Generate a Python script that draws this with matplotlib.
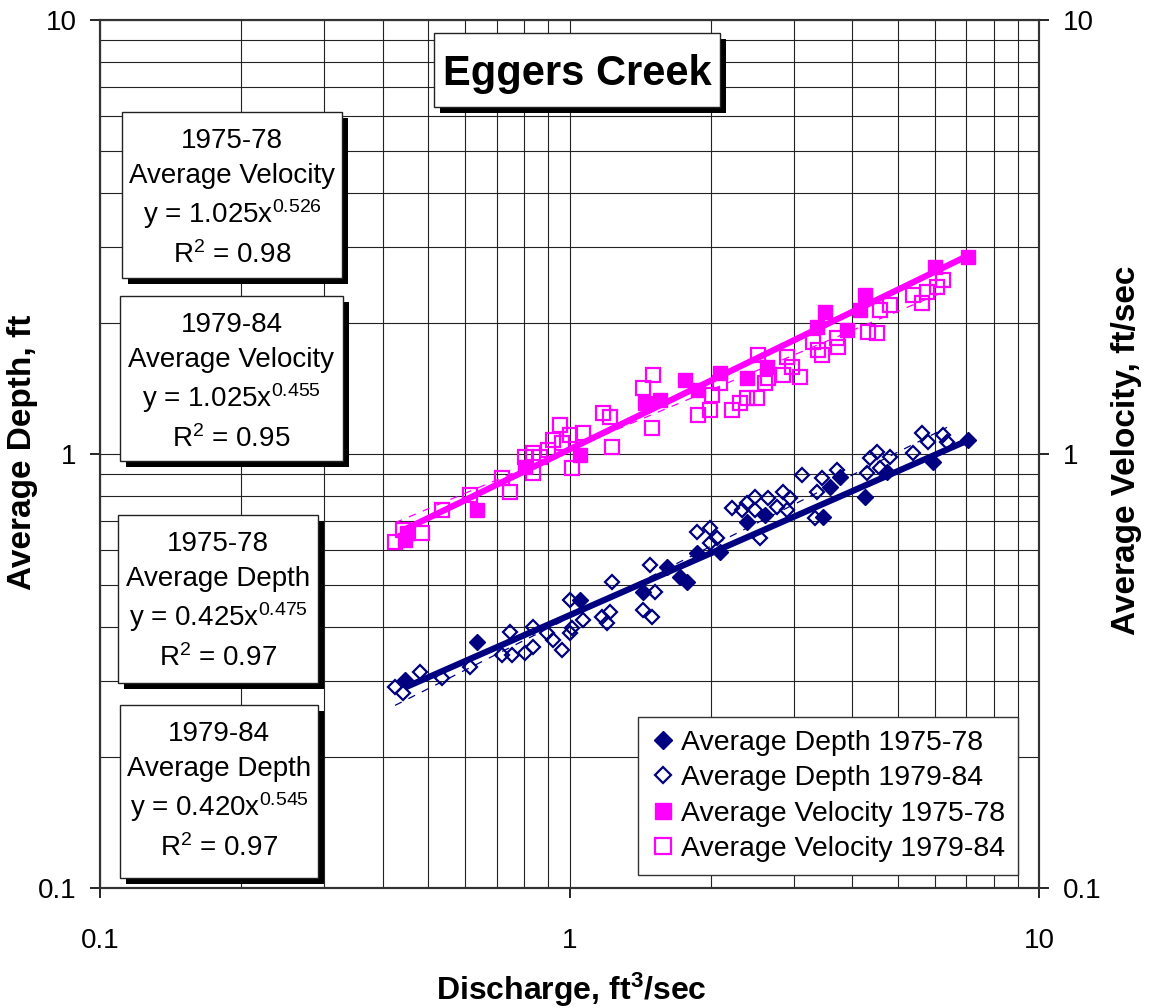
import matplotlib
matplotlib.use("Agg")
import matplotlib.pyplot as plt
from matplotlib.patches import Rectangle
from matplotlib.lines import Line2D
from matplotlib.ticker import FixedLocator, FuncFormatter, LogLocator, NullFormatter
import numpy as np

plt.rcParams['font.family'] = ['Liberation Sans', 'DejaVu Sans']
plt.rcParams['mathtext.fontset'] = 'custom'
plt.rcParams['mathtext.rm'] = 'Liberation Sans'
plt.rcParams['mathtext.it'] = 'Liberation Sans:italic'
plt.rcParams['mathtext.bf'] = 'Liberation Sans:bold'

# ---------------- data ----------------
vel78_q = [0.446, 0.451, 0.635, 0.804, 1.053, 1.449, 1.558, 1.762, 1.878, 2.092, 2.388,
           2.634, 3.367, 3.502, 3.900, 4.156, 4.260, 6.003, 7.060]
vel78_v = [0.634, 0.658, 0.743, 0.933, 0.995, 1.311, 1.332, 1.481, 1.404, 1.537, 1.497,
           1.587, 1.962, 2.124, 1.931, 2.147, 2.325, 2.697, 2.843]

vel84_q = [0.425, 0.442, 0.485, 0.535, 0.614, 0.718, 0.747, 0.804, 0.836, 0.836, 0.865,
           0.900, 0.922, 0.954, 0.964, 1.003, 1.012, 1.068, 1.179, 1.220, 1.232, 1.434,
           1.499, 1.506, 1.878, 1.992, 2.012, 2.092, 2.219, 2.307, 2.388, 2.508, 2.521,
           2.609, 2.647, 2.849, 2.906, 2.978, 3.097, 3.301, 3.383, 3.450, 3.733, 3.715,
           4.324, 4.518, 4.585, 4.816, 5.391, 5.635, 5.772, 6.246, 6.064]
vel84_v = [0.627, 0.668, 0.658, 0.743, 0.804, 0.880, 0.818, 0.984, 1.005, 0.904, 0.984,
           1.021, 1.077, 1.166, 1.060, 1.106, 0.928, 1.118, 1.243, 1.217, 1.038, 1.419,
           1.148, 1.521, 1.230, 1.263, 1.368, 1.457, 1.263, 1.311, 1.346, 1.346, 1.691,
           1.457, 1.497, 1.521, 1.673, 1.587, 1.505, 1.812, 1.737, 1.691, 1.765, 1.850,
           1.910, 1.900, 2.147, 2.204, 2.325, 2.228, 2.362, 2.517, 2.426]

dep78_q = [0.446, 0.635, 1.053, 1.434, 1.614, 1.719, 1.779, 1.869, 2.092, 2.388, 2.609,
           3.467, 3.588, 3.768, 4.260, 4.746, 5.946, 7.060]
dep78_d = [0.301, 0.369, 0.461, 0.481, 0.549, 0.521, 0.507, 0.591, 0.594, 0.697, 0.723,
           0.716, 0.839, 0.885, 0.796, 0.909, 0.958, 1.077]

dep84_q = [0.425, 0.442, 0.480, 0.535, 0.614, 0.718, 0.747, 0.754, 0.804, 0.836, 0.836,
           0.896, 0.922, 0.964, 1.003, 1.012, 1.003, 1.068, 1.173, 1.220, 1.202, 1.232,
           1.434, 1.499, 1.484, 1.521, 1.869, 1.992, 2.062, 1.992, 2.219, 2.330, 2.388,
           2.484, 2.484, 2.647, 2.767, 2.849, 2.949, 2.906, 2.546, 3.127, 3.367, 3.450,
           3.334, 3.715, 4.302, 4.365, 4.518, 4.585, 4.816, 5.391, 5.635, 5.801, 6.246,
           6.368]
dep84_d = [0.290, 0.281, 0.315, 0.305, 0.323, 0.344, 0.389, 0.344, 0.348, 0.400, 0.359,
           0.387, 0.373, 0.354, 0.387, 0.397, 0.461, 0.415, 0.421, 0.433, 0.408, 0.507,
           0.437, 0.421, 0.555, 0.481, 0.661, 0.675, 0.641, 0.624, 0.751, 0.743, 0.771,
           0.796, 0.743, 0.792, 0.755, 0.818, 0.792, 0.743, 0.641, 0.895, 0.818, 0.880,
           0.712, 0.919, 0.904, 0.979, 1.011, 0.928, 0.984, 1.005, 1.118, 1.066, 1.106,
           1.066]

# power-law fits shown in the boxes: y = a * x^b
fit_years = ['1975-78', '1979-84', '1975-78', '1979-84']
fit_kinds = ['Average Velocity', 'Average Velocity', 'Average Depth', 'Average Depth']
fit_a = ['1.025', '1.025', '0.425', '0.420']
fit_b = ['0.526', '0.455', '0.475', '0.545']
fit_r2 = ['0.98', '0.95', '0.97', '0.97']

legend_labels = ['Average Depth 1975-78', 'Average Depth 1979-84',
                 'Average Velocity 1975-78', 'Average Velocity 1979-84']
tick_vals = [0.1, 1, 10]

NAVY = '#000080'
MAG = '#FF00FF'
W, H = 1152, 1008

fig = plt.figure(figsize=(W/100, H/100), dpi=100)
ax = fig.add_axes([100/W, 1-888/H, 939/W, 868/H])
ax.set_xscale('log')
ax.set_yscale('log')
ax.set_xlim(0.1, 10)
ax.set_ylim(0.1, 10)

ax.xaxis.set_major_locator(FixedLocator(tick_vals))
ax.yaxis.set_major_locator(FixedLocator(tick_vals))
ax.xaxis.set_minor_locator(LogLocator(base=10, subs=np.arange(2, 10)))
ax.yaxis.set_minor_locator(LogLocator(base=10, subs=np.arange(2, 10)))
ax.xaxis.set_minor_formatter(NullFormatter())
ax.yaxis.set_minor_formatter(NullFormatter())
fmt = FuncFormatter(lambda v, p: f'{v:g}')
ax.xaxis.set_major_formatter(fmt)
ax.yaxis.set_major_formatter(fmt)
ax.grid(True, which='both', color='#222222', lw=0.8, zorder=0)
ax.set_axisbelow(True)
ax.tick_params(which='major', direction='out', length=7, width=1.2, labelsize=20, pad=10)
ax.tick_params(axis='x', which='major', pad=22)
ax.tick_params(which='minor', length=0)
for s in ax.spines.values():
    s.set_linewidth(1.5)
    s.set_color('#333333')

# scatter
ax.plot(dep78_q, dep78_d, ls='none', marker='D', ms=8, color=NAVY, mec=NAVY, zorder=3)
ax.plot(dep84_q, dep84_d, ls='none', marker='D', ms=7.5, mfc='none', mec=NAVY, mew=1.6, zorder=3)
ax.plot(vel78_q, vel78_v, ls='none', marker='s', ms=10.5, color=MAG, mec=MAG, zorder=3)
ax.plot(vel84_q, vel84_v, ls='none', marker='s', ms=10.5, mfc='none', mec=MAG, mew=1.6, zorder=3)

# trend lines
def trend(q, a, b, color, solid):
    xs = np.logspace(np.log10(min(q)), np.log10(max(q)), 50)
    ys = float(a) * xs ** float(b)
    if solid:
        ax.plot(xs, ys, color=color, lw=4.5, solid_capstyle='butt', zorder=4)
    else:
        ax.plot(xs, ys, color=color, lw=0.9, ls=(0, (6, 6)), zorder=4)

trend(vel78_q, fit_a[0], fit_b[0], MAG, True)
trend(vel84_q, fit_a[1], fit_b[1], MAG, False)
trend(dep78_q, fit_a[2], fit_b[2], NAVY, True)
trend(dep84_q, fit_a[3], fit_b[3], NAVY, False)

# right axis
ax2 = ax.twinx()
ax2.set_yscale('log')
ax2.set_ylim(0.1, 10)
ax2.yaxis.set_major_locator(FixedLocator(tick_vals))
ax2.yaxis.set_minor_locator(LogLocator(base=10, subs=np.arange(2, 10)))
ax2.yaxis.set_minor_formatter(NullFormatter())
ax2.yaxis.set_major_formatter(fmt)
ax2.tick_params(which='major', direction='out', length=7, width=1.2, labelsize=20, pad=10)
ax2.tick_params(which='minor', length=0)
for s in ax2.spines.values():
    s.set_linewidth(1.5)
    s.set_color('#333333')

def fx(px):
    return px / W

def fy(py):
    return 1 - py / H

# axis titles
fig.text(fx(23), fy(452), 'Average Depth, ft', rotation=90, fontsize=24,
         fontweight='bold', ha='center', va='center')
fig.text(fx(1127), fy(450), 'Average Velocity, ft/sec', rotation=90, fontsize=24,
         fontweight='bold', ha='center', va='center')
fig.text(fx(571), fy(990), r'Discharge, $\mathbf{ft^3}$/sec', fontsize=23,
         fontweight='bold', ha='center', va='center')

def panel(x0, y0, x1, y1, sh=6):
    fig.patches.append(Rectangle((fx(x0 + sh), fy(y1 + sh)), (x1 - x0)/W, (y1 - y0)/H,
                                 transform=fig.transFigure, fc='black', ec='none', zorder=8))
    fig.patches.append(Rectangle((fx(x0), fy(y1)), (x1 - x0)/W, (y1 - y0)/H,
                                 transform=fig.transFigure, fc='white', ec='#222222',
                                 lw=1.0, zorder=9))

# title box
panel(434, 33, 720, 107)
fig.text(fx(577), fy(85), 'Eggers Creek', fontsize=30, fontweight='bold',
         ha='center', va='baseline', zorder=10)

# equation boxes
boxes = [(122, 112, 342, 278), (120, 296, 343, 461), (118, 515, 318, 683), (120, 705, 318, 878)]
offsets = [36, 71, 111, 151]
for (x0, y0, x1, y1), yr, kd, a, b, r2 in zip(boxes, fit_years, fit_kinds, fit_a, fit_b, fit_r2):
    panel(x0, y0, x1, y1)
    cx = (x0 + x1) / 2
    lines = [yr, kd, f'y = {a}x' + r'$^{' + b + r'}$', r'R$^{2}$ = ' + r2]
    for off, s in zip(offsets, lines):
        fig.text(fx(cx), fy(y0 + off), s, fontsize=20, ha='center', va='baseline', zorder=10)

handles = [
    Line2D([], [], ls='none', marker='D', ms=9, color=NAVY),
    Line2D([], [], ls='none', marker='D', ms=8, mfc='none', mec=NAVY, mew=1.6),
    Line2D([], [], ls='none', marker='s', ms=11, color=MAG),
    Line2D([], [], ls='none', marker='s', ms=11, mfc='none', mec=MAG, mew=1.6),
]
leg = ax2.legend(handles, legend_labels, loc='lower right',
                 bbox_to_anchor=(fx(1018), fy(875)), bbox_transform=fig.transFigure,
                 borderaxespad=0, fontsize=20.5, frameon=True, fancybox=False,
                 framealpha=1, edgecolor='#333333', handlelength=0.8, handletextpad=0.25,
                 labelspacing=0.33, borderpad=0.45)
leg.get_frame().set_linewidth(1.0)
leg.set_zorder(20)

fig.savefig('out.png', dpi=100)
